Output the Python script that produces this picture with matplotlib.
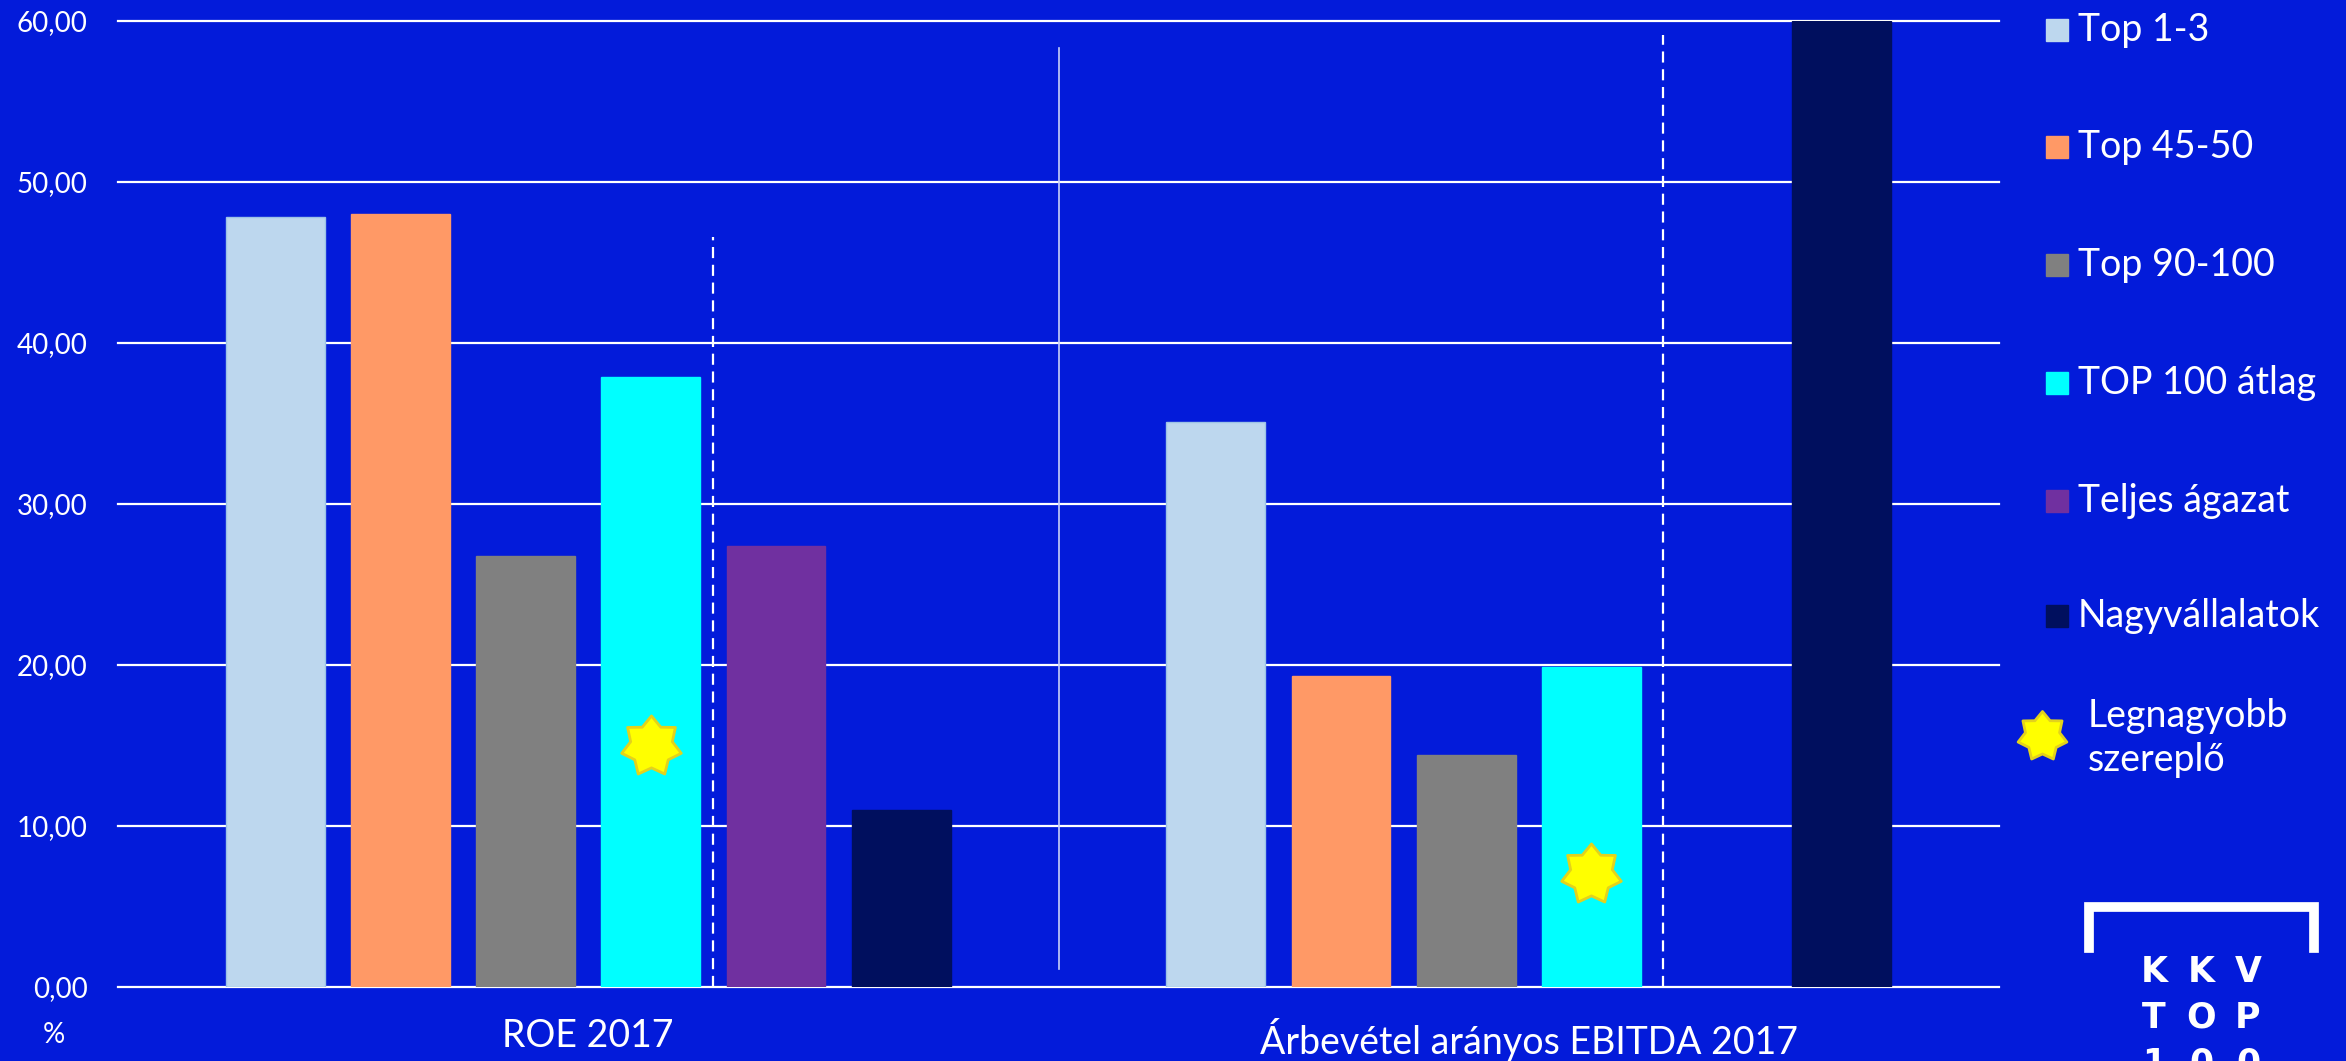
import numpy as np
import matplotlib.pyplot as plt
from matplotlib.patches import Rectangle
from matplotlib.lines import Line2D
from matplotlib.path import Path

plt.rcParams['font.family'] = ['Lato', 'DejaVu Sans']

categories = ['ROE 2017', 'Árbevétel arányos EBITDA 2017']
series = ['Top 1-3', 'Top 45-50', 'Top 90-100', 'TOP 100 átlag', 'Teljes ágazat', 'Nagyvállalatok']
top_1_3 = [47.8, 35.1]
top_45_50 = [48.0, 19.3]
top_90_100 = [26.8, 14.4]
top100_atlag = [37.9, 19.9]
teljes_agazat = [27.4, np.nan]
nagyvallalatok = [11.0, 60.0]
legnagyobb = [15.0, 7.0]
yticks = [0, 10, 20, 30, 40, 50, 60]
ytick_labels = ['0,00', '10,00', '20,00', '30,00', '40,00', '50,00', '60,00']

colors = ['#BDD7EE', '#FF9966', '#808080', '#00FFFF', '#7030A0', '#000F5E']
values = [top_1_3, top_45_50, top_90_100, top100_atlag, teljes_agazat, nagyvallalatok]
bg = '#031BDA'

W, H = 2346, 1061
def fx(px):
    return px / W
def fy(py):
    return 1 - py / H

# 7 agu csillag, vastagabb agakkal
ang = np.pi / 2 + np.arange(14) * np.pi / 7
rad = np.where(np.arange(14) % 2 == 0, 1.0, 0.7)
verts = np.column_stack([rad * np.cos(ang), rad * np.sin(ang)])
star = Path(np.vstack([verts, verts[:1]]), closed=True)

fig = plt.figure(figsize=(W / 100, H / 100), dpi=100, facecolor=bg)
ax = fig.add_axes([fx(118), fy(987), (1999 - 118) / W, (987 - 21) / H])
ax.set_facecolor(bg)

x = np.arange(len(categories))
step = 0.1331
width = 0.105
for i, (vals, c) in enumerate(zip(values, colors)):
    ec = '#9DC3E6' if i == 0 else c
    ax.bar(x + (i - 2.5) * step, vals, width, color=c, edgecolor=ec, lw=1, zorder=2)

# legnagyobb szereplo csillag
ax.plot(x + 0.5 * step, legnagyobb, linestyle='none', marker=star, ms=44,
        mfc='#FFFF00', mec='#E3D21C', mew=2, zorder=4)

# szaggatott vonalak
ax.plot([0 + step, 0 + step], [0, 46.6], color='white', lw=1.6, dashes=(5, 3), zorder=3)
ax.plot([1 + 1.07 * step, 1 + 1.07 * step], [0, 59.1], color='white', lw=1.6, dashes=(5, 3), zorder=3)
ax.plot([0.5, 0.5], [1.1, 58.3], color='#C8D0F8', lw=1.2, zorder=3)

ax.set_xlim(-0.5, 1.5)
ax.set_ylim(0, 60)
ax.set_yticks(yticks)
ax.set_yticklabels(ytick_labels)
ax.set_xticks(x)
ax.set_xticklabels(categories)
ax.tick_params(axis='y', length=0, pad=22, labelsize=20, labelcolor='white')
ax.tick_params(axis='x', length=0, pad=22, labelsize=27, labelcolor='white')
ax.yaxis.grid(True, color='white', lw=1.6)
for gl in ax.get_ygridlines():
    gl.set_clip_on(False)
ax.set_axisbelow(True)
for s in ax.spines.values():
    s.set_visible(False)

fig.text(fx(54), fy(1035), '%', color='white', fontsize=20, ha='center', va='center')

# jelmagyarazat
row_y = [30, 147, 265, 383, 501, 616]
for lab, c, yy in zip(series, colors, row_y):
    fig.add_artist(Rectangle((fx(2046), fy(yy + 11)), 22 / W, 22 / H, color=c,
                             transform=fig.transFigure))
    fig.text(fx(2078), fy(yy), lab, color='white', fontsize=27, ha='left', va='center')
fig.add_artist(Line2D([fx(2042)], [fy(736)], marker=star, ms=36, mfc='#FFFF00',
                      mec='#E3D21C', mew=2, linestyle='none', transform=fig.transFigure))
fig.text(fx(2088), fy(738), 'Legnagyobb\nszereplő', color='white', fontsize=27,
         ha='left', va='center', linespacing=1.3)

# logo
fig.add_artist(Line2D([fx(2089), fx(2089), fx(2314), fx(2314)],
                      [fy(948), fy(907), fy(907), fy(948)], color='white', lw=7,
                      solid_joinstyle='miter', transform=fig.transFigure))
for word, yy in [('KKV', 972), ('TOP', 1018), ('100', 1064)]:
    for j, ch in enumerate(word):
        fig.text(fx(2154 + 47 * j), fy(yy), ch, color='white', fontsize=25,
                 family='DejaVu Sans', fontweight='bold', ha='center', va='center')

fig.savefig('out.png', dpi=100, facecolor=bg)
